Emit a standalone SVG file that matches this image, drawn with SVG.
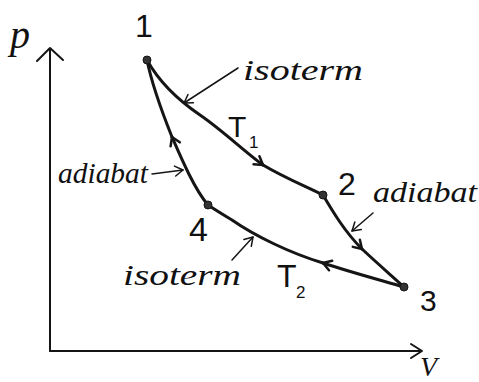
<svg xmlns="http://www.w3.org/2000/svg" width="479" height="382" viewBox="0 0 479 382">
<style>
.hand{font-family:"Liberation Serif","DejaVu Serif",serif;font-style:italic;fill:#111}
.num{font-family:"Liberation Sans","DejaVu Sans",sans-serif;fill:#111}
.curve{fill:none;stroke:#151515;stroke-width:3;stroke-linecap:round;stroke-linejoin:round}
.axis{fill:none;stroke:#151515;stroke-width:2;stroke-linecap:round;stroke-linejoin:round}
.note{fill:none;stroke:#151515;stroke-width:1.5;stroke-linecap:round}
.dot{fill:#333;stroke:#151515;stroke-width:1}
</style>
<defs>
<marker id="chev" viewBox="-10 -7 12 14" markerWidth="12" markerHeight="14" refX="0" refY="0" orient="auto" markerUnits="userSpaceOnUse">
<path d="M-8,-5 L0,0 L-8,5" fill="none" stroke="#151515" stroke-width="2.5" stroke-linecap="round" stroke-linejoin="round"/>
</marker>
<marker id="chevs" viewBox="-10 -7 12 14" markerWidth="12" markerHeight="14" refX="0" refY="0" orient="auto" markerUnits="userSpaceOnUse">
<path d="M-8,-5 L0,0 L-8,5" fill="none" stroke="#151515" stroke-width="1.5" stroke-linecap="round" stroke-linejoin="round"/>
</marker>
</defs>
<rect width="479" height="382" fill="#fff"/>
<g id="axes">
<path class="axis" d="M50,351 L50,49"/>
<path class="axis" d="M37,61 L50,48 L63,60"/>
<path class="axis" d="M50,351 L421,351"/>
<path class="axis" d="M411,344 L422,351 L411,358"/>
<text class="hand" x="10" y="48" font-size="40">p</text>
<text class="hand" x="420" y="376" font-size="28">V</text>
</g>
<g id="connectors">
<path class="curve" d="M147,60 C158,80 178,100 200,115 S245,152 263,165" marker-end="url(#chev)"/>
<path class="curve" d="M263,165 C285,178 305,186 323,195"/>
<path class="curve" d="M323,195 C333,212 345,232 362,249" marker-end="url(#chev)"/>
<path class="curve" d="M362,249 C378,264 392,276 404,287"/>
<path class="curve" d="M404,287 C380,280 350,272 323,263" marker-end="url(#chev)"/>
<path class="curve" d="M323,263 C290,253 255,236 232,220 C222,214 214,209 208,205"/>
<path class="curve" d="M208,205 C195,190 182,160 172,137" marker-end="url(#chev)"/>
<path class="curve" d="M172,137 C162,112 152,85 147,60"/>
</g>
<g id="state1">
<circle class="dot" cx="147" cy="60" r="4"/>
<text class="num" x="144" y="37" font-size="32" text-anchor="middle">1</text>
</g>
<g id="state2">
<circle class="dot" cx="323" cy="195" r="4"/>
<text class="num" x="338" y="195" font-size="32">2</text>
</g>
<g id="state3">
<circle class="dot" cx="404" cy="287" r="4"/>
<text class="num" x="420" y="311" font-size="30">3</text>
</g>
<g id="state4">
<circle class="dot" cx="208" cy="205" r="4"/>
<text class="num" x="189" y="241" font-size="34">4</text>
</g>
<g id="label-isoterm-top">
<text class="hand" x="243" y="80" font-size="30" textLength="120" lengthAdjust="spacingAndGlyphs">isoterm</text>
<path class="note" d="M238,68 L184,103" marker-end="url(#chevs)"/>
</g>
<g id="label-T1">
<text class="num" x="228" y="137" font-size="30">T</text>
<text class="num" x="249" y="148" font-size="17">1</text>
</g>
<g id="label-adiabat-left">
<text class="hand" x="58" y="183" font-size="30" textLength="90" lengthAdjust="spacingAndGlyphs">adiabat</text>
<path class="note" d="M152,174 L183,170" marker-end="url(#chevs)"/>
</g>
<g id="label-adiabat-right">
<text class="hand" x="373" y="202" font-size="30" textLength="104" lengthAdjust="spacingAndGlyphs">adiabat</text>
<path class="note" d="M373,213 L352,231" marker-end="url(#chevs)"/>
</g>
<g id="label-isoterm-bottom">
<text class="hand" x="123" y="285" font-size="30" textLength="118" lengthAdjust="spacingAndGlyphs">isoterm</text>
<path class="note" d="M232,260 L253,237" marker-end="url(#chevs)"/>
</g>
<g id="label-T2">
<text class="num" x="277" y="287" font-size="32">T</text>
<text class="num" x="296" y="298" font-size="17">2</text>
</g>
</svg>
